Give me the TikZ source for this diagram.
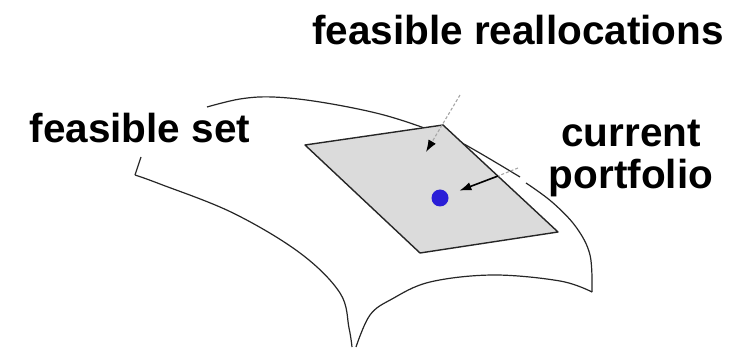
\documentclass[tikz,border=0pt]{standalone}
\usepackage{fontspec}
\setmainfont{Liberation Sans}
\usetikzlibrary{arrows.meta}
\definecolor{dotblue}{RGB}{42,30,215}

\begin{document}
\begin{tikzpicture}[
  x=1pt, y=-1pt,
  label/.style={font=\bfseries\fontsize{40.5}{42}\selectfont, inner sep=0pt, align=center},
  edge/.style={line width=1.2pt, black!85},
  plane/.style={draw=black!85, line width=1.4pt, fill=black!14, line join=round},
  tipper/.style={-{Latex[length=12pt, width=8.5pt, black]}},
  faint/.style={dashed, dash pattern=on 3pt off 2pt, gray!70, line width=1.1pt},
]
\useasboundingbox (0,0) rectangle (746,352);

% Labels
\node[label, anchor=base] (reall) at (518,45)  {feasible reallocations};
\node[label, anchor=base] (fset)  at (140,143) {feasible set};
\node[label, anchor=north] (curr) at (631,120) {current\\portfolio};

% Surface edges
\draw[edge] plot[smooth, tension=0.6] coordinates
  {(207,107) (240,99) (273,97) (320,102) (380,114) (430,130) (462,143) (520,177)};
\draw[edge] plot[smooth, tension=0.6] coordinates
  {(526,183) (552,202) (576,227) (590,255) (592,292)};
\draw[edge] plot[smooth, tension=0.6] coordinates
  {(592,292) (560,281) (493,275) (430,282) (392,299) (370,315) (356,347)};
\draw[edge] plot[smooth, tension=0.6] coordinates
  {(352,347) (349,328) (340,293) (300,253) (233,213) (160,184) (135,175)};
\draw[edge] (135,175) -- (141,157);

% Reallocation plane
\coordinate (pl) at (305,145);
\coordinate (pt) at (443,125);
\coordinate (pr) at (558,232);
\coordinate (pb) at (420,253);
\draw[plane] (pl) -- (pt) -- (pr) -- (pb) -- cycle;

% Current portfolio
\node[circle, fill=dotblue, inner sep=0pt, minimum size=17pt] (cur) at (440,198) {};

% Arrows
\coordinate (ra) at (460,95);
\coordinate (rb) at (426,152);
\draw[faint, tipper] (ra) -- (rb);

\coordinate (pa) at (518,168);
\coordinate (pm) at (498,176);
\draw[faint] (pa) -- (pm);
\draw[tipper, line width=1.6pt, shorten >=12pt] (pm) -- (cur);
\end{tikzpicture}
\end{document}
